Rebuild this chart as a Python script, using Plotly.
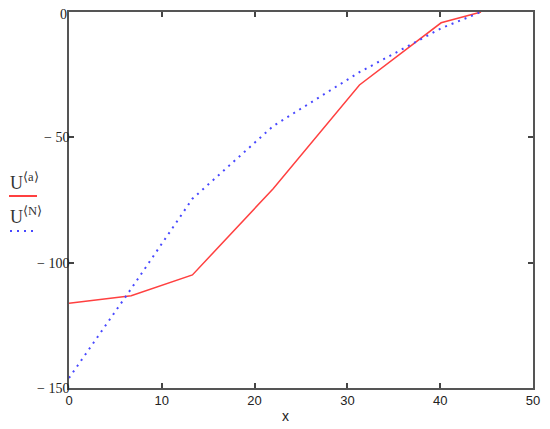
import plotly.graph_objects as go

x_a = [0, 6.7, 13.3, 22, 31.3, 40.1, 44.4]
u_a = [-116.2, -113.2, -104.9, -70.5, -29.1, -4.3, 0]

x_n = [0, 6.7, 13.3, 22, 31.3, 40.1, 44.4]
u_n = [-146, -110.4, -74.5, -45.5, -24, -6.5, 0]

x_ticks = [0, 10, 20, 30, 40, 50]
y_ticks = [0, -50, -100, -150]
y_labels = ["0", "\u2212 50", "\u2212 100", "\u2212 150"]

red = "rgb(255,64,64)"
blue = "rgb(72,72,255)"

fig = go.Figure()
fig.add_trace(go.Scatter(x=x_a, y=u_a, mode="lines", line=dict(color=red, width=1.5), showlegend=False))
fig.add_trace(go.Scatter(x=x_n, y=u_n, mode="lines", line=dict(color=blue, width=2, dash="2px,5px"), showlegend=False))

axis_common = dict(showgrid=False, zeroline=False, showline=True, linecolor="#555555", linewidth=1.5,
                   mirror="allticks", ticks="inside", ticklen=5, tickcolor="#444444", tickwidth=1.5,
                   automargin=False, ticklabeloverflow="allow")

fig.update_xaxes(range=[0, 50], tickvals=x_ticks, ticktext=[str(v) for v in x_ticks],
                 tickfont=dict(family="Liberation Sans", size=13, color="#222"), **axis_common)
# the top "0" label is drawn as an annotation so it is not cut at the page edge
fig.update_yaxes(range=[-150, 0], tickvals=y_ticks, ticktext=[""] + y_labels[1:],
                 ticklabelstandoff=-5,
                 tickfont=dict(family="Liberation Serif", size=14, color="#222"), **axis_common)

# the page is rendered with a small offset, so shift the figure up/left to compensate
fig.update_layout(width=550, height=429, margin=dict(l=61, r=25, t=4, b=49),
                  plot_bgcolor="white", paper_bgcolor="white")

def px(xp):
    return (xp - 69) / 464

def py(yp):
    return (388 - yp) / 376

fig.add_annotation(text=y_labels[0], xref="paper", yref="paper", x=px(68), y=py(6),
                   showarrow=False, xanchor="right", yanchor="top", borderpad=0,
                   font=dict(family="Liberation Serif", size=14, color="#222"))

# x axis title
fig.add_annotation(text="x", xref="paper", yref="paper", x=px(285), y=py(416),
                   showarrow=False, font=dict(family="Liberation Sans", size=14, color="#222"),
                   xanchor="center", yanchor="middle")

# left-side legend labels
fig.add_annotation(text="U<sup>\u27e8a\u27e9</sup>", xref="paper", yref="paper", x=px(8), y=py(181),
                   showarrow=False, xanchor="left", yanchor="middle",
                   font=dict(family="Liberation Serif", size=18, color="#333"))
fig.add_annotation(text="U<sup>\u27e8N\u27e9</sup>", xref="paper", yref="paper", x=px(8), y=py(215),
                   showarrow=False, xanchor="left", yanchor="middle",
                   font=dict(family="Liberation Serif", size=18, color="#333"))
fig.add_shape(type="line", xref="paper", yref="paper", x0=px(9), x1=px(37), y0=py(196), y1=py(196),
              line=dict(color=red, width=2))
fig.add_shape(type="line", xref="paper", yref="paper", x0=px(10), x1=px(33), y0=py(231), y1=py(231),
              line=dict(color=blue, width=2, dash="2px,5px"))

fig.write_html("out.html")
